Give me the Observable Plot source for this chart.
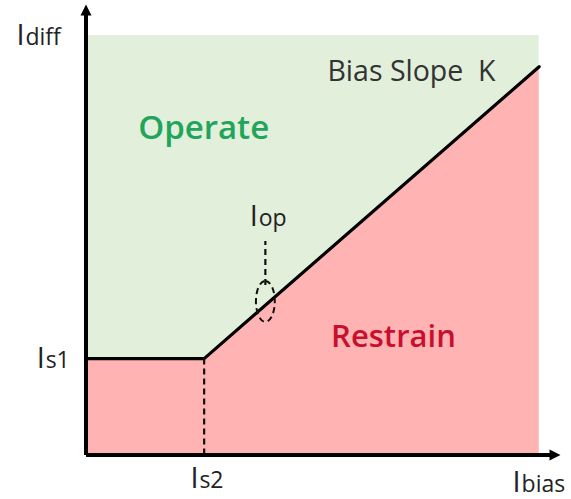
<!DOCTYPE html>
<html>
<head>
<meta charset="utf-8">
<script src="https://cdn.jsdelivr.net/npm/d3@7"></script>
<script src="https://cdn.jsdelivr.net/npm/@observablehq/plot@0.6"></script>
<style>
  html, body { margin: 0; padding: 0; background: #fff; }
  svg { display: block; }
</style>
</head>
<body>
<div id="chart"></div>
<script>
// ---- Data (characteristic in arbitrary current units) ----
const axisMax = [10, 10];              // x (Ibias), y (Idiff) extents of arrowed axes
const regionExtent = [9.55, 9.31];     // extent of shaded zones
const kneeX = [0, 2.49, 9.55];         // bias current at breakpoints
const kneeY = [2.14, 2.14, 8.62];      // differential current at breakpoints
const is1 = 2.14;
const is2 = 2.49;
const iopPoint = [3.78, 3.41];         // highlighted operating point
const regionLabels = ["Operate", "Restrain"];
const slopeLabel = "Bias Slope  K";
const axisLabels = [["I", "diff"], ["I", "bias"], ["I", "s1"], ["I", "s2"], ["I", "op"]];

const boundary = kneeX.map((x, i) => ({x, y: kneeY[i]}));

// custom symbols
const ellipse = {
  draw(ctx, size) {
    const r = Math.sqrt(size / Math.PI);
    const rx = r * 0.46, ry = r, k = 0.5523;
    ctx.moveTo(0, -ry);
    ctx.bezierCurveTo(k * rx, -ry, rx, -k * ry, rx, 0);
    ctx.bezierCurveTo(rx, k * ry, k * rx, ry, 0, ry);
    ctx.bezierCurveTo(-k * rx, ry, -rx, k * ry, -rx, 0);
    ctx.bezierCurveTo(-rx, -k * ry, -k * rx, -ry, 0, -ry);
    ctx.closePath();
  }
};
const arrowHead = {
  draw(ctx, size) {
    const s = Math.sqrt(size / Math.PI);
    ctx.moveTo(0, 0);
    ctx.lineTo(-s * 0.5, s);
    ctx.lineTo(s * 0.5, s);
    ctx.closePath();
  }
};

const font = "'Open Sans', Lato, sans-serif";
const big = 29, small = 23;

function subLabel(x, y, parts, dx = 9) {
  return [
    Plot.text([parts[0]], {x: () => x, y: () => y, text: d => d, textAnchor: "start",
      fontSize: big, fill: "#222", fontFamily: font}),
    Plot.text([parts[1]], {x: () => x, y: () => y, text: d => d, textAnchor: "start",
      fontSize: small, fill: "#222", fontFamily: font, dx, dy: 1.8})
  ];
}

const chart = Plot.plot({
  width: 571,
  height: 499,
  marginLeft: 85.5,
  marginRight: 11,
  marginTop: 4,
  marginBottom: 44.5,
  x: {domain: [0, axisMax[0]], axis: null},
  y: {domain: [0, axisMax[1]], axis: null},
  marks: [
    // Operate zone
    Plot.rect([0], {x1: 0, x2: regionExtent[0], y1: 0, y2: regionExtent[1], fill: "#e2efda"}),
    // Restrain zone
    Plot.areaY(boundary, {x: "x", y: "y", fill: "#ffb3b3"}),
    // Characteristic line
    Plot.line(boundary, {x: "x", y: "y", stroke: "#000", strokeWidth: 3.2}),
    // Is2 dashed
    Plot.ruleX([is2], {y1: 0, y2: is1, stroke: "#111", strokeWidth: 2.2, strokeDasharray: "6,4"}),
    // Iop leader
    Plot.ruleX([iopPoint[0]], {y1: iopPoint[1] + 0.35, y2: iopPoint[1] + 1.33, stroke: "#111", strokeWidth: 2.2, strokeDasharray: "6,4"}),
    Plot.dot([iopPoint], {x: d => d[0], y: d => d[1], r: 20.5, symbol: ellipse, stroke: "#111", strokeWidth: 2, strokeDasharray: "6,4", fill: "none"}),
    // Axes
    Plot.link([0], {x1: 0, y1: 0, x2: axisMax[0] - 0.15, y2: 0, stroke: "#000", strokeWidth: 4}),
    Plot.link([0], {x1: 0, y1: 0, x2: 0, y2: axisMax[1] - 0.15, stroke: "#000", strokeWidth: 4}),
    Plot.dot([0], {x: axisMax[0], y: 0, symbol: arrowHead, r: 11, rotate: 90, fill: "#000", stroke: "none"}),
    Plot.dot([0], {x: 0, y: axisMax[1], symbol: arrowHead, r: 11, fill: "#000", stroke: "none"}),
    // Zone labels
    Plot.text([regionLabels[0]], {x: 2.48, y: 7.25, text: d => d, fontSize: 33, fontWeight: 600, fill: "#21a55a", fontFamily: font}),
    Plot.text([regionLabels[1]], {x: 6.48, y: 2.61, text: d => d, fontSize: 31, fontWeight: 600, fill: "#c8102e", fontFamily: font}),
    Plot.text([slopeLabel], {x: 6.86, y: 8.50, text: d => d.replace("  ", "\u00a0 "), fontSize: 28.5, fill: "#333", fontFamily: font}),
    // Axis / quantity labels
    ...subLabel(-1.465, 9.31, axisLabels[0]),
    ...subLabel(8.99, -0.62, axisLabels[1]),
    ...subLabel(-1.04, 2.14, axisLabels[2]),
    ...subLabel(2.20, -0.52, axisLabels[3]),
    ...subLabel(3.45, 5.28, axisLabels[4])
  ]
});
document.getElementById("chart").appendChild(chart);
</script>
</body>
</html>
